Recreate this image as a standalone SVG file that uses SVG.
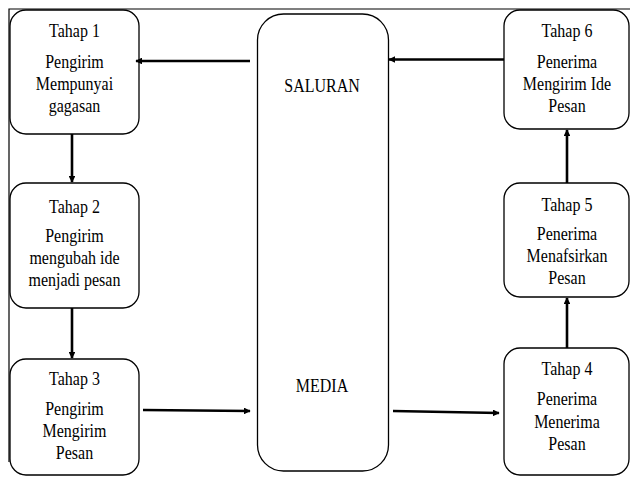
<svg xmlns="http://www.w3.org/2000/svg" width="630" height="477" viewBox="0 0 630 477">
<defs>
<style>
.box{fill:#fff;stroke:#000;stroke-width:1.3}
.frame{fill:none;stroke:#000;stroke-width:1.2}
.con{fill:none;stroke:#000;stroke-width:2.6}
text{font-family:'Liberation Serif','Times New Roman',serif;font-size:16px;fill:#000;text-anchor:middle}
</style>
<marker id="ah" viewBox="0 0 10 10" refX="9" refY="5" markerWidth="2.6" markerHeight="2.6" orient="auto" markerUnits="strokeWidth">
<path d="M0,0 L10,5 L0,10 z" fill="#000"/>
</marker>
</defs>
<rect width="630" height="477" fill="#fff"/>
<path class="frame" d="M9,462 L9,9 L631,9"/>
<g id="saluran-media">
<rect class="box" x="257.5" y="14" width="131" height="457" rx="26"/>
<text x="322" transform="translate(0,92) scale(1,1.12)">SALURAN</text>
<text x="322" transform="translate(0,392) scale(1,1.12)">MEDIA</text>
</g>
<g id="tahap1">
<rect class="box" x="10" y="10" width="129" height="124" rx="16"/>
<text x="74.5" transform="translate(0,37) scale(1,1.12)">Tahap 1</text>
<text x="74.5" transform="translate(0,68) scale(1,1.12)">Pengirim</text>
<text x="74.5" transform="translate(0,90) scale(1,1.12)">Mempunyai</text>
<text x="74.5" transform="translate(0,112) scale(1,1.12)">gagasan</text>
</g>
<g id="tahap2">
<rect class="box" x="10" y="183" width="129" height="125" rx="16"/>
<text x="74.5" transform="translate(0,213) scale(1,1.12)">Tahap 2</text>
<text x="74.5" transform="translate(0,242) scale(1,1.12)">Pengirim</text>
<text x="74.5" transform="translate(0,264) scale(1,1.12)">mengubah ide</text>
<text x="74.5" transform="translate(0,286) scale(1,1.12)">menjadi pesan</text>
</g>
<g id="tahap3">
<rect class="box" x="10" y="359" width="129" height="116" rx="16"/>
<text x="74.5" transform="translate(0,385) scale(1,1.12)">Tahap 3</text>
<text x="74.5" transform="translate(0,415) scale(1,1.12)">Pengirim</text>
<text x="74.5" transform="translate(0,437) scale(1,1.12)">Mengirim</text>
<text x="74.5" transform="translate(0,459) scale(1,1.12)">Pesan</text>
</g>
<g id="tahap6">
<rect class="box" x="504" y="10" width="125" height="119" rx="16"/>
<text x="567" transform="translate(0,37) scale(1,1.12)">Tahap 6</text>
<text x="567" transform="translate(0,68) scale(1,1.12)">Penerima</text>
<text x="567" transform="translate(0,90) scale(1,1.12)">Mengirim Ide</text>
<text x="567" transform="translate(0,112) scale(1,1.12)">Pesan</text>
</g>
<g id="tahap5">
<rect class="box" x="504" y="183" width="125" height="114" rx="16"/>
<text x="567" transform="translate(0,211) scale(1,1.12)">Tahap 5</text>
<text x="567" transform="translate(0,240) scale(1,1.12)">Penerima</text>
<text x="567" transform="translate(0,262) scale(1,1.12)">Menafsirkan</text>
<text x="567" transform="translate(0,284) scale(1,1.12)">Pesan</text>
</g>
<g id="tahap4">
<rect class="box" x="504" y="348" width="125" height="127" rx="16"/>
<text x="567" transform="translate(0,375) scale(1,1.12)">Tahap 4</text>
<text x="567" transform="translate(0,405) scale(1,1.12)">Penerima</text>
<text x="567" transform="translate(0,428) scale(1,1.12)">Menerima</text>
<text x="567" transform="translate(0,450) scale(1,1.12)">Pesan</text>
</g>
<g id="connectors">
<line class="con" x1="250" y1="61" x2="136" y2="61" marker-end="url(#ah)"/>
<line class="con" x1="504" y1="59.5" x2="389" y2="59.5" marker-end="url(#ah)"/>
<line class="con" x1="72" y1="134" x2="72" y2="182" marker-end="url(#ah)"/>
<line class="con" x1="72" y1="308" x2="72" y2="358" marker-end="url(#ah)"/>
<line class="con" x1="143" y1="410" x2="250" y2="411" marker-end="url(#ah)"/>
<line class="con" x1="393" y1="411" x2="499" y2="413" marker-end="url(#ah)"/>
<line class="con" x1="567" y1="348" x2="567" y2="298" marker-end="url(#ah)"/>
<line class="con" x1="567" y1="183" x2="567" y2="130" marker-end="url(#ah)"/>
</g>
</svg>
